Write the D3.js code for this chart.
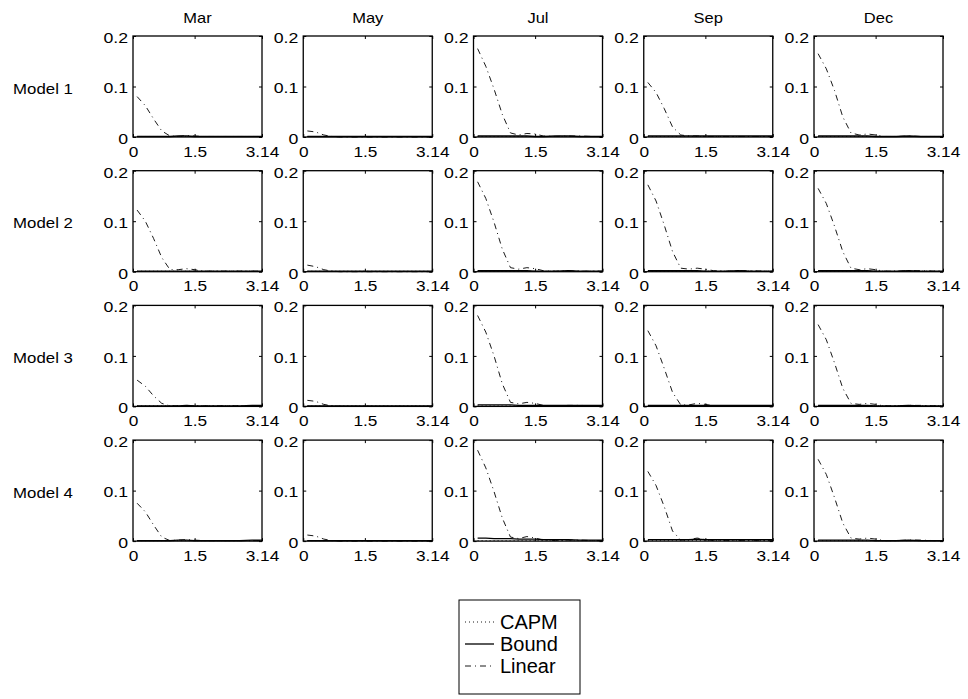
<!DOCTYPE html>
<html>
<head>
<meta charset="utf-8">
<script src="https://cdn.jsdelivr.net/npm/d3@7"></script>
<style>
  body { margin: 0; background: #fff; }
  text { font-family: Arial, "Liberation Sans", sans-serif; fill: #000; }
</style>
</head>
<body>
<script>
// months across, models down
let months = ['Mar', 'May', 'Jul', 'Sep', 'Dec']
let models = ['Model 1', 'Model 2', 'Model 3', 'Model 4']
let xTicks = [0, 1.5, 3.14]
let yTicks = [0, 0.1, 0.2]
let seriesNames = ['CAPM', 'Bound', 'Linear']

// frequency grid shared by every panel
let freq = [0.1, 0.3, 0.5, 0.7, 0.9, 1.1, 1.3, 1.5, 1.7, 2.0, 2.3, 2.6, 2.9, 3.14]

// Linear (dash-dot), one row per month
let linearM1 = [
  [0.080, 0.062, 0.036, 0.012, 0.002, 0.001, 0.003, 0.002, 0.001, 0.001, 0.001, 0.001, 0.001, 0.001],
  [0.012, 0.010, 0.004, 0.001, 0.000, 0.000, 0.000, 0.000, 0.000, 0.000, 0.000, 0.000, 0.000, 0.000],
  [0.175, 0.140, 0.095, 0.045, 0.008, 0.004, 0.007, 0.006, 0.002, 0.001, 0.002, 0.002, 0.001, 0.001],
  [0.108, 0.088, 0.056, 0.020, 0.004, 0.002, 0.002, 0.001, 0.001, 0.001, 0.001, 0.001, 0.001, 0.001],
  [0.165, 0.135, 0.092, 0.040, 0.008, 0.004, 0.006, 0.004, 0.001, 0.001, 0.002, 0.001, 0.001, 0.001]
]
let linearM2 = [
  [0.122, 0.100, 0.066, 0.028, 0.004, 0.004, 0.006, 0.004, 0.001, 0.001, 0.001, 0.001, 0.001, 0.001],
  [0.013, 0.010, 0.004, 0.001, 0.000, 0.000, 0.000, 0.000, 0.000, 0.000, 0.000, 0.000, 0.000, 0.000],
  [0.178, 0.145, 0.098, 0.045, 0.008, 0.005, 0.008, 0.006, 0.002, 0.001, 0.002, 0.001, 0.001, 0.001],
  [0.172, 0.140, 0.092, 0.040, 0.007, 0.005, 0.007, 0.005, 0.002, 0.001, 0.002, 0.002, 0.001, 0.001],
  [0.165, 0.135, 0.090, 0.040, 0.007, 0.004, 0.006, 0.004, 0.001, 0.001, 0.002, 0.002, 0.001, 0.001]
]
let linearM3 = [
  [0.052, 0.040, 0.021, 0.006, 0.001, 0.001, 0.002, 0.001, 0.001, 0.001, 0.001, 0.001, 0.001, 0.001],
  [0.012, 0.010, 0.004, 0.001, 0.000, 0.000, 0.000, 0.000, 0.000, 0.000, 0.000, 0.000, 0.000, 0.000],
  [0.180, 0.147, 0.100, 0.045, 0.008, 0.005, 0.008, 0.006, 0.002, 0.001, 0.002, 0.002, 0.001, 0.001],
  [0.150, 0.120, 0.075, 0.028, 0.003, 0.003, 0.006, 0.004, 0.001, 0.001, 0.001, 0.001, 0.001, 0.001],
  [0.162, 0.132, 0.086, 0.036, 0.006, 0.004, 0.006, 0.004, 0.001, 0.001, 0.002, 0.002, 0.001, 0.001]
]
let linearM4 = [
  [0.075, 0.058, 0.032, 0.008, 0.001, 0.002, 0.003, 0.002, 0.001, 0.001, 0.001, 0.001, 0.001, 0.001],
  [0.012, 0.010, 0.004, 0.001, 0.000, 0.000, 0.000, 0.000, 0.000, 0.000, 0.000, 0.000, 0.000, 0.000],
  [0.180, 0.145, 0.098, 0.046, 0.008, 0.005, 0.009, 0.006, 0.002, 0.001, 0.002, 0.002, 0.001, 0.001],
  [0.138, 0.110, 0.068, 0.020, 0.002, 0.003, 0.006, 0.003, 0.001, 0.001, 0.001, 0.001, 0.001, 0.001],
  [0.162, 0.132, 0.086, 0.036, 0.006, 0.004, 0.006, 0.004, 0.001, 0.001, 0.002, 0.002, 0.001, 0.001]
]

// Bound (solid), sits close to zero
let boundM1 = [
  [0.001, 0.001, 0.001, 0.001, 0.001, 0.002, 0.002, 0.001, 0.001, 0.001, 0.001, 0.001, 0.001, 0.001],
  [0.001, 0.001, 0.001, 0.001, 0.001, 0.001, 0.001, 0.001, 0.001, 0.001, 0.001, 0.001, 0.001, 0.001],
  [0.002, 0.002, 0.002, 0.002, 0.002, 0.002, 0.002, 0.001, 0.001, 0.002, 0.002, 0.001, 0.001, 0.001],
  [0.002, 0.002, 0.002, 0.002, 0.002, 0.002, 0.002, 0.002, 0.002, 0.002, 0.002, 0.002, 0.002, 0.002],
  [0.002, 0.002, 0.002, 0.002, 0.002, 0.002, 0.002, 0.001, 0.001, 0.001, 0.002, 0.001, 0.001, 0.001]
]
let boundM2 = [
  [0.001, 0.001, 0.001, 0.001, 0.001, 0.001, 0.001, 0.001, 0.001, 0.001, 0.001, 0.001, 0.001, 0.001],
  [0.001, 0.001, 0.001, 0.001, 0.001, 0.001, 0.001, 0.001, 0.001, 0.001, 0.001, 0.001, 0.001, 0.001],
  [0.002, 0.002, 0.002, 0.002, 0.002, 0.002, 0.002, 0.001, 0.001, 0.001, 0.002, 0.001, 0.001, 0.001],
  [0.002, 0.002, 0.002, 0.002, 0.002, 0.002, 0.002, 0.001, 0.001, 0.001, 0.002, 0.001, 0.001, 0.001],
  [0.002, 0.002, 0.002, 0.002, 0.002, 0.002, 0.002, 0.001, 0.001, 0.001, 0.002, 0.001, 0.001, 0.001]
]
let boundM3 = [
  [0.001, 0.001, 0.001, 0.001, 0.001, 0.001, 0.002, 0.001, 0.001, 0.001, 0.001, 0.001, 0.002, 0.002],
  [0.001, 0.001, 0.001, 0.001, 0.001, 0.001, 0.001, 0.001, 0.001, 0.001, 0.001, 0.001, 0.001, 0.001],
  [0.003, 0.003, 0.003, 0.003, 0.003, 0.002, 0.002, 0.002, 0.002, 0.002, 0.002, 0.002, 0.002, 0.002],
  [0.002, 0.002, 0.002, 0.002, 0.002, 0.002, 0.002, 0.002, 0.002, 0.002, 0.002, 0.002, 0.002, 0.002],
  [0.002, 0.002, 0.002, 0.002, 0.002, 0.002, 0.002, 0.001, 0.001, 0.001, 0.002, 0.001, 0.001, 0.001]
]
let boundM4 = [
  [0.001, 0.001, 0.001, 0.001, 0.001, 0.002, 0.002, 0.001, 0.001, 0.001, 0.001, 0.001, 0.002, 0.002],
  [0.001, 0.001, 0.001, 0.001, 0.001, 0.001, 0.001, 0.001, 0.001, 0.001, 0.001, 0.001, 0.001, 0.001],
  [0.006, 0.006, 0.005, 0.005, 0.005, 0.004, 0.004, 0.004, 0.003, 0.003, 0.003, 0.002, 0.002, 0.002],
  [0.003, 0.003, 0.003, 0.003, 0.003, 0.003, 0.004, 0.003, 0.003, 0.003, 0.003, 0.003, 0.003, 0.003],
  [0.002, 0.002, 0.002, 0.002, 0.002, 0.002, 0.002, 0.001, 0.001, 0.001, 0.002, 0.001, 0.001, 0.001]
]

// CAPM (dotted), practically on the axis everywhere
let capmAll = [0.001, 0.001, 0.001, 0.001, 0.001, 0.001, 0.001, 0.001, 0.001, 0.001, 0.001, 0.001, 0.001, 0.001]

let linearData = [linearM1, linearM2, linearM3, linearM4]
let boundData = [boundM1, boundM2, boundM3, boundM4]

var width = 968, height = 699
var panelW = 129, panelH = 101
var left0 = 133, top0 = 36
var stepX = 170.25, stepY = 134.7

var svg = d3.select('body')
            .append('svg')
            .attr('width', width)
            .attr('height', height)

var x = d3.scaleLinear().domain([0, 3.14]).range([0, panelW])
var y = d3.scaleLinear().domain([0, 0.2]).range([panelH, 0])

var line = d3.line()
             .x(d => x(d[0]))
             .y(d => y(d[1]))

var dashFor = {
  CAPM: '1,3',
  Bound: null,
  Linear: '6,4,1,4'
}

// the original's labels come out a little wider than Arial
function widen(sel, k) {
  sel.each(function() {
    var n = this.getComputedTextLength()
    d3.select(this).attr('textLength', n * k).attr('lengthAdjust', 'spacingAndGlyphs')
  })
}

function drawPanel(g, r, c) {
  g.append('rect')
   .attr('width', panelW)
   .attr('height', panelH)
   .attr('fill', 'none')
   .attr('stroke', '#000')
   .attr('stroke-width', 1.3)

  let series = {
    CAPM: capmAll,
    Bound: boundData[r][c],
    Linear: linearData[r][c]
  }
  seriesNames.forEach(name => {
    let pts = freq.map((f, i) => [f, series[name][i]])
    g.append('path')
     .datum(pts)
     .attr('d', line)
     .attr('fill', 'none')
     .attr('stroke', '#000')
     .attr('stroke-width', name == 'Bound' ? 1.3 : 0.9)
     .attr('stroke-dasharray', dashFor[name])
  })

  // axes, ticks pointing inward like matlab
  var xb = g.append('g')
            .attr('transform', 'translate(0,' + panelH + ')')
            .call(d3.axisBottom(x).tickValues(xTicks).tickSizeInner(-3).tickSizeOuter(0).tickPadding(9)
                    .tickFormat(d => d == 3.14 ? '3.14' : d3.format('')(d)))
  var yl = g.append('g')
            .call(d3.axisLeft(y).tickValues(yTicks).tickSizeInner(-3).tickSizeOuter(0).tickPadding(5)
                    .tickFormat(d => d == 0 ? '0' : d.toFixed(1)))
  var xt = g.append('g')
            .call(d3.axisTop(x).tickValues(xTicks).tickSizeInner(-3).tickSizeOuter(0).tickFormat(''))
  var yr = g.append('g')
            .attr('transform', 'translate(' + panelW + ',0)')
            .call(d3.axisRight(y).tickValues(yTicks).tickSizeInner(-3).tickSizeOuter(0).tickFormat(''))

  ;[xb, yl, xt, yr].forEach(a => {
    a.select('.domain').remove()
    a.selectAll('text').style('font-size', '15px').attr('fill', '#000')
    a.selectAll('line').attr('stroke', '#000')
  })
  yl.selectAll('text').attr('dy', '0.42em')
  widen(xb.selectAll('text'), 1.15)
  widen(yl.selectAll('text'), 1.18)
}

models.forEach((m, r) => {
  months.forEach((mon, c) => {
    var g = svg.append('g')
               .attr('transform', 'translate(' + (left0 + c * stepX) + ',' + (top0 + r * stepY) + ')')
    drawPanel(g, r, c)
  })
  var t = svg.append('text')
     .attr('x', 43)
     .attr('y', top0 + r * stepY + panelH / 2 + 2)
     .attr('text-anchor', 'middle')
     .attr('dy', '0.35em')
     .style('font-size', '15px')
     .text(m)
  widen(t, 1.12)
})

months.forEach((mon, c) => {
  var t = svg.append('text')
     .attr('x', left0 + c * stepX + panelW / 2)
     .attr('y', 23)
     .attr('text-anchor', 'middle')
     .style('font-size', '15px')
     .text(mon)
  widen(t, 1.1)
})

// legend
var lg = svg.append('g').attr('transform', 'translate(459,600)')
lg.append('rect')
  .attr('width', 121)
  .attr('height', 94)
  .attr('fill', '#fff')
  .attr('stroke', '#000')
  .attr('stroke-width', 1)

seriesNames.forEach((name, i) => {
  var yy = 22 + i * 22
  lg.append('line')
    .attr('x1', 6).attr('x2', 35)
    .attr('y1', yy).attr('y2', yy)
    .attr('stroke', '#000')
    .attr('stroke-width', name == 'Bound' ? 1.3 : 0.9)
    .attr('stroke-dasharray', dashFor[name])
  lg.append('text')
    .attr('x', 41)
    .attr('y', yy)
    .attr('dy', '0.35em')
    .style('font-size', '20px')
    .text(name)
})
</script>
</body>
</html>
